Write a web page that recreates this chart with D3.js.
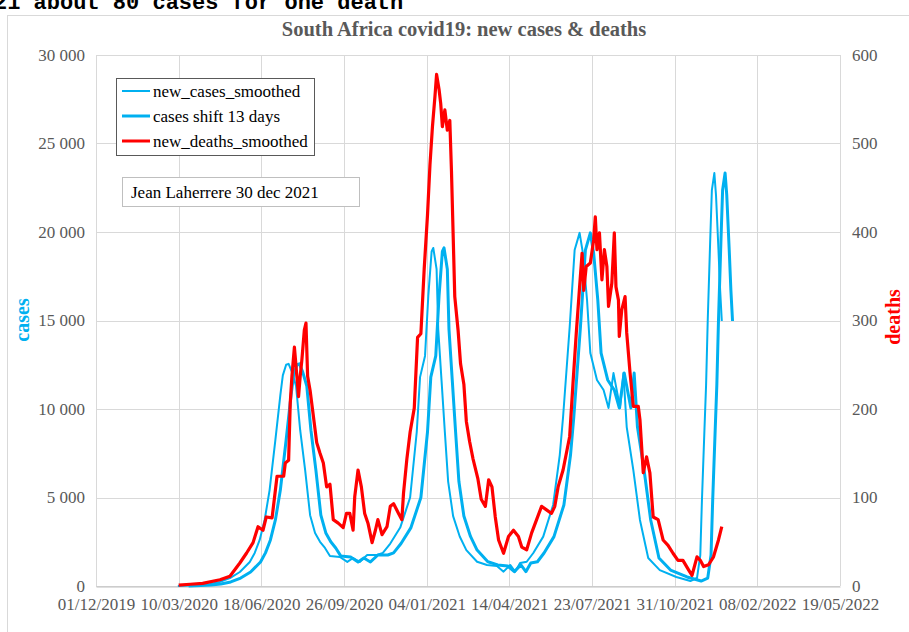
<!DOCTYPE html>
<html><head><meta charset="utf-8">
<script src="https://cdn.jsdelivr.net/npm/d3@7"></script>
<style>html,body{margin:0;padding:0;background:#fff;overflow:hidden}</style>
</head><body>
<svg id="c" width="909" height="632"></svg>
<script>
const tickLabels = ["01/12/2019","10/03/2020","18/06/2020","26/09/2020","04/01/2021","14/04/2021","23/07/2021","31/10/2021","08/02/2022","19/05/2022"];
const casesTicks = [0,5000,10000,15000,20000,25000,30000];
const deathsTicks = [0,100,200,300,400,500,600];
const shiftDays = 13;

const caseDates = ["2020-03-09","2020-03-24","2020-04-05","2020-04-17","2020-04-29","2020-05-11","2020-05-23","2020-06-04","2020-06-10","2020-06-16","2020-06-22","2020-06-28","2020-07-05","2020-07-11","2020-07-14","2020-07-18","2020-07-21","2020-07-25","2020-07-30","2020-08-04","2020-08-10","2020-08-16","2020-08-22","2020-08-28","2020-09-03","2020-09-09","2020-09-21","2020-09-30","2020-10-07","2020-10-15","2020-10-24","2020-11-05","2020-11-12","2020-11-21","2020-12-03","2020-12-15","2020-12-23","2020-12-27","2021-01-02","2021-01-06","2021-01-10","2021-01-12","2021-01-16","2021-01-18","2021-01-22","2021-01-26","2021-01-30","2021-02-05","2021-02-13","2021-02-21","2021-03-06","2021-03-18","2021-03-30","2021-04-07","2021-04-15","2021-04-21","2021-04-27","2021-05-05","2021-05-13","2021-05-25","2021-06-06","2021-06-14","2021-06-18","2021-06-26","2021-07-02","2021-07-08","2021-07-12","2021-07-17","2021-07-21","2021-07-29","2021-08-06","2021-08-12","2021-08-18","2021-08-26","2021-08-30","2021-09-03","2021-09-11","2021-09-19","2021-09-29","2021-10-13","2021-11-02","2021-11-19","2021-11-27","2021-12-01","2021-12-03","2021-12-06","2021-12-08","2021-12-10","2021-12-13","2021-12-15","2021-12-18","2021-12-20","2021-12-23","2021-12-25","2021-12-27"];
const newCases = [0,30,60,110,230,450,790,1360,1870,2600,3730,5420,8250,10790,11900,12500,12550,12100,11300,8800,6550,4000,3000,2500,2150,1700,1640,1360,1580,1360,1750,1750,1870,2400,3300,5000,8700,11800,13000,16400,18900,19100,17900,14500,11600,8700,5900,3950,2800,2030,1370,1190,1130,810,1190,810,1300,1370,1865,2790,4580,7400,9550,14630,18980,19950,18810,16160,13160,11640,11070,10060,12030,10060,12030,8980,6550,3730,1580,900,510,280,450,1750,4860,8800,11350,15000,19550,22370,23330,22090,18980,16720,14970];

const deathDates = ["2020-03-10","2020-03-24","2020-04-08","2020-04-29","2020-05-11","2020-05-23","2020-05-31","2020-06-08","2020-06-14","2020-06-20","2020-06-24","2020-07-01","2020-07-07","2020-07-15","2020-07-17","2020-07-21","2020-07-23","2020-07-25","2020-07-28","2020-07-31","2020-08-02","2020-08-04","2020-08-06","2020-08-09","2020-08-11","2020-08-13","2020-08-16","2020-08-19","2020-08-24","2020-08-28","2020-09-01","2020-09-05","2020-09-09","2020-09-13","2020-09-19","2020-09-25","2020-09-29","2020-10-03","2020-10-07","2020-10-09","2020-10-13","2020-10-17","2020-10-21","2020-10-25","2020-10-30","2020-11-03","2020-11-06","2020-11-11","2020-11-17","2020-11-21","2020-11-25","2020-12-01","2020-12-05","2020-12-07","2020-12-11","2020-12-15","2020-12-20","2020-12-24","2020-12-28","2021-01-01","2021-01-05","2021-01-08","2021-01-11","2021-01-14","2021-01-16","2021-01-19","2021-01-21","2021-01-23","2021-01-26","2021-01-29","2021-02-01","2021-02-03","2021-02-07","2021-02-11","2021-02-14","2021-02-18","2021-02-21","2021-02-25","2021-03-01","2021-03-07","2021-03-11","2021-03-16","2021-03-20","2021-03-24","2021-03-28","2021-04-01","2021-04-07","2021-04-13","2021-04-19","2021-04-25","2021-04-29","2021-05-05","2021-05-11","2021-05-17","2021-05-23","2021-05-29","2021-06-04","2021-06-08","2021-06-12","2021-06-18","2021-06-26","2021-06-30","2021-07-04","2021-07-08","2021-07-11","2021-07-13","2021-07-16","2021-07-21","2021-07-25","2021-07-27","2021-07-29","2021-08-01","2021-08-04","2021-08-07","2021-08-10","2021-08-12","2021-08-16","2021-08-19","2021-08-21","2021-08-24","2021-08-25","2021-08-28","2021-09-01","2021-09-03","2021-09-07","2021-09-11","2021-09-17","2021-09-19","2021-09-23","2021-09-27","2021-10-01","2021-10-05","2021-10-11","2021-10-17","2021-10-23","2021-10-29","2021-11-04","2021-11-10","2021-11-17","2021-11-21","2021-11-27","2021-12-01","2021-12-05","2021-12-11","2021-12-17","2021-12-23","2021-12-27"];
const newDeaths = [1,2,3,7,11,26,37,49,67,63,78,77,124,124,139,142,207,237,270,237,214,237,255,289,297,237,221,199,162,150,139,112,115,75,71,66,82,82,63,101,131,112,82,71,49,63,75,58,67,90,93,82,75,105,143,174,201,281,285,358,419,476,519,553,578,561,545,519,538,515,526,469,327,289,251,228,186,163,144,121,98,90,120,112,78,52,37,56,63,56,44,41,60,75,90,86,82,90,112,131,169,229,286,338,376,334,361,365,391,417,380,399,346,380,361,316,342,399,338,323,282,312,327,286,241,203,203,188,128,146,128,78,75,52,46,37,29,29,18,12,33,29,22,24,33,52,67];

const seriesNames = ["new_cases_smoothed","cases shift 13 days","new_deaths_smoothed"];
const titleText = "South Africa covid19: new cases & deaths";
const noteText = "Jean Laherrere 30 dec 2021";
const topText = "21 about 80 cases for one death";

const cyan = "#00B0F0", red = "#FF0000", grid = "#D9D9D9", txt = "#595959";
const serif = "'Liberation Serif','Times New Roman',serif";
const FS = 17;

const parseISO = d3.timeParse("%Y-%m-%d");
const parseTick = d3.timeParse("%d/%m/%Y");
const tickDates = tickLabels.map(parseTick);

const L = 96, R = 840, T = 55, B = 586;
const x = d3.scaleTime().domain([tickDates[0], tickDates[tickDates.length-1]]).range([L, R]);
const yC = d3.scaleLinear().domain([0, 30000]).range([B, T]);
const yD = d3.scaleLinear().domain([0, 600]).range([B, T]);

const svg = d3.select("#c");

// top clipped text (cut by the page edge in the original)
svg.append("text").attr("x", -6).attr("y", 9)
  .attr("font-family", "'Liberation Mono','Courier New',monospace").attr("font-weight", "bold")
  .attr("font-size", 22).attr("fill", "#000").text(topText);

// chart frame
svg.append("rect").attr("x", 7.5).attr("y", 15.5).attr("width", 1000).attr("height", 1000)
  .attr("fill", "#fff").attr("stroke", grid).attr("stroke-width", 1);

// grid
const g = svg.append("g");
g.selectAll(".hg").data(casesTicks).join("line")
  .attr("x1", L).attr("x2", R).attr("y1", d => Math.round(yC(d)) + 0.5).attr("y2", d => Math.round(yC(d)) + 0.5)
  .attr("stroke", grid).attr("stroke-width", 1);
g.selectAll(".vg").data(tickDates).join("line")
  .attr("x1", d => Math.round(x(d)) + 0.5).attr("x2", d => Math.round(x(d)) + 0.5)
  .attr("y1", T).attr("y2", B)
  .attr("stroke", grid).attr("stroke-width", 1);

// axes
const xAxis = svg.append("g").attr("transform", `translate(0,${B + 0.5})`)
  .call(d3.axisBottom(x).tickValues(tickDates).tickSize(0).tickPadding(11)
    .tickFormat((d, i) => tickLabels[i]));
xAxis.select(".domain").attr("stroke", "#BFBFBF");
xAxis.selectAll("text").attr("font-family", serif).attr("font-size", FS).attr("fill", txt);

const yl = svg.append("g").attr("transform", `translate(${L},0)`)
  .call(d3.axisLeft(yC).tickValues(casesTicks).tickSize(0).tickPadding(11)
    .tickFormat(d => d3.format(",")(d).replace(",", " ")));
yl.select(".domain").remove();
yl.selectAll("text").attr("font-family", serif).attr("font-size", FS).attr("fill", txt);

const yr = svg.append("g").attr("transform", `translate(${R},0)`)
  .call(d3.axisRight(yD).tickValues(deathsTicks).tickSize(0).tickPadding(12));
yr.select(".domain").remove();
yr.selectAll("text").attr("font-family", serif).attr("font-size", FS).attr("fill", txt);

// axis titles
svg.append("text").attr("transform", "translate(29,320) rotate(-90)").attr("text-anchor", "middle")
  .attr("font-family", serif).attr("font-weight", "bold").attr("font-size", 20).attr("fill", cyan).text("cases");
svg.append("text").attr("transform", "translate(900,317) rotate(-90)").attr("text-anchor", "middle")
  .attr("font-family", serif).attr("font-weight", "bold").attr("font-size", 20).attr("fill", red).text("deaths");

// title
svg.append("text").attr("x", 464).attr("y", 36).attr("text-anchor", "middle")
  .attr("font-family", serif).attr("font-weight", "bold").attr("font-size", 20.5).attr("fill", txt).text(titleText);

// data
const cases = caseDates.map((d, i) => ({ date: parseISO(d), v: newCases[i] }));
const shifted = cases.map(d => ({ date: d3.timeDay.offset(d.date, shiftDays), v: d.v }));
const deaths = deathDates.map((d, i) => ({ date: parseISO(d), v: newDeaths[i] }));

const lineC = d3.line().x(d => x(d.date)).y(d => yC(d.v));
const lineD = d3.line().x(d => x(d.date)).y(d => yD(d.v));

svg.append("path").datum(cases).attr("d", lineC).attr("fill", "none")
  .attr("stroke", cyan).attr("stroke-width", 2).attr("stroke-linejoin", "round");
svg.append("path").datum(shifted).attr("d", lineC).attr("fill", "none")
  .attr("stroke", cyan).attr("stroke-width", 3).attr("stroke-linejoin", "round");
svg.append("path").datum(deaths).attr("d", lineD).attr("fill", "none")
  .attr("stroke", red).attr("stroke-width", 3.2).attr("stroke-linejoin", "round");

// legend
const lg = svg.append("g");
lg.append("rect").attr("x", 116.5).attr("y", 78.5).attr("width", 198).attr("height", 77)
  .attr("fill", "#fff").attr("stroke", "#595959").attr("stroke-width", 1);
const lcol = [cyan, cyan, red], lw = [2, 3, 3];
seriesNames.forEach((n, i) => {
  const yy = 91 + i * 25;
  lg.append("line").attr("x1", 122).attr("x2", 150).attr("y1", yy).attr("y2", yy)
    .attr("stroke", lcol[i]).attr("stroke-width", lw[i]);
  lg.append("text").attr("x", 153).attr("y", yy + 6).attr("font-family", serif).attr("font-size", FS)
    .attr("fill", "#000").text(n);
});

// note
svg.append("rect").attr("x", 122.5).attr("y", 177.5).attr("width", 237).attr("height", 29)
  .attr("fill", "#fff").attr("stroke", "#BFBFBF").attr("stroke-width", 1);
svg.append("text").attr("x", 131).attr("y", 198).attr("font-family", serif).attr("font-size", FS)
  .attr("fill", "#000").text(noteText);
</script>
</body></html>
